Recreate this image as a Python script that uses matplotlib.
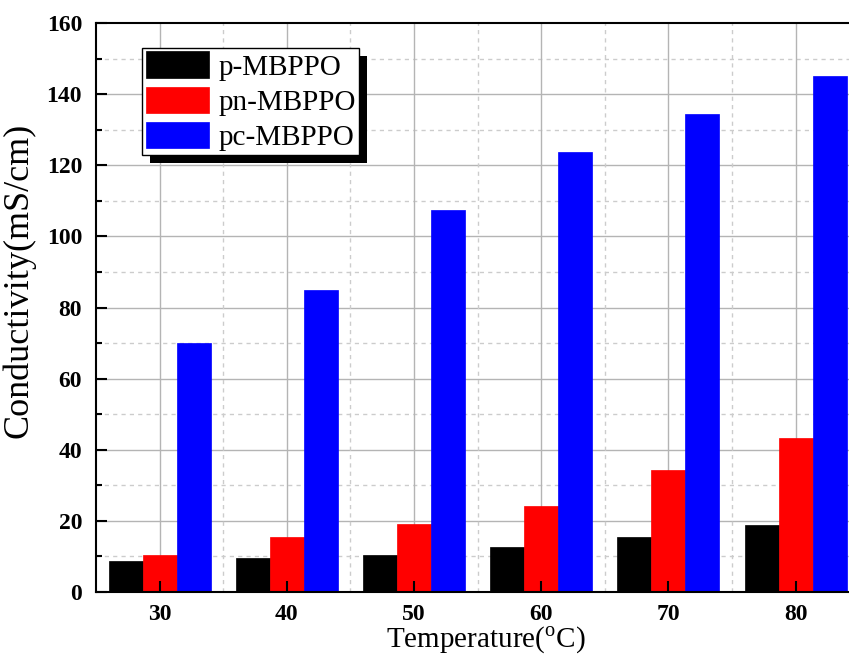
import matplotlib
matplotlib.use("Agg")
import matplotlib.pyplot as plt
import matplotlib.patheffects as pe
from matplotlib.ticker import MultipleLocator
import numpy as np

plt.rcParams['font.family'] = ['Liberation Serif', 'DejaVu Serif']
plt.rcParams['mathtext.fontset'] = 'custom'
plt.rcParams['mathtext.rm'] = 'Liberation Serif'

# Data
temperatures = ['30', '40', '50', '60', '70', '80']
p_mbppo = [8.7, 9.6, 10.4, 12.7, 15.5, 18.8]
pn_mbppo = [10.4, 15.5, 19.1, 24.2, 34.3, 43.3]
pc_mbppo = [70.0, 84.9, 107.4, 123.7, 134.4, 145.1]
series_names = ['p-MBPPO', 'pn-MBPPO', 'pc-MBPPO']
series_colors = ['#000000', '#ff0000', '#0000ff']

fig = plt.figure(figsize=(8.49, 6.59), dpi=100)
ax = fig.add_axes([96 / 849, 1 - 592 / 659, 1 - 96 / 849, (592 - 23) / 659])

x = np.arange(len(temperatures))
width = 0.267

# grid drawn by hand so the ticks can stay on top of the bars
dash = (0, (3, 3))
for yv in range(20, 160, 20):
    ax.axhline(yv, color='#b4b4b4', lw=1.0, zorder=0)
for yv in range(10, 160, 20):
    ax.axhline(yv, color='#cccccc', lw=1.0, ls=dash, zorder=0)
for xv in x:
    ax.axvline(xv, color='#b4b4b4', lw=1.0, zorder=0)
for xv in np.append(x[:-1] + 0.5, x[-1] + 0.5):
    ax.axvline(xv, color='#cccccc', lw=1.0, ls=dash, zorder=0)

for i, (vals, name, col) in enumerate(zip([p_mbppo, pn_mbppo, pc_mbppo], series_names, series_colors)):
    ax.bar(x + (i - 1) * width, vals, width, color=col, edgecolor=col, lw=0.5, label=name, zorder=1)

ax.set_xlim(-0.5, 5.42)
ax.set_ylim(0, 160)
ax.set_xticks(x)
ax.set_xticklabels(temperatures)
ax.yaxis.set_major_locator(MultipleLocator(20))
ax.yaxis.set_minor_locator(MultipleLocator(10))

ax.tick_params(axis='both', which='major', direction='in', length=8, width=1.5, labelsize=17, zorder=3)
ax.tick_params(axis='y', which='minor', direction='in', length=4, width=1.5)
ax.tick_params(axis='x', which='major', pad=9)
ax.tick_params(axis='y', which='major', pad=10)
for lab in ax.get_xticklabels() + ax.get_yticklabels():
    lab.set_fontweight('bold')

for s in ['left', 'bottom', 'top']:
    ax.spines[s].set_linewidth(1.5)
    ax.spines[s].set_zorder(4)
ax.spines['right'].set_visible(False)

ax.set_xlabel('Temperature($^{\\rm o}$C)', fontsize=21)
ax.xaxis.set_label_coords(0.518, -0.058)
ax.set_ylabel('Conductivity(mS/cm)', fontsize=26)
ax.yaxis.set_label_coords(-0.081, 0.548)

leg = ax.legend(loc='upper left', bbox_to_anchor=(142 / 849, 1 - 48 / 659), bbox_transform=fig.transFigure,
                borderaxespad=0, fontsize=21, handlelength=2.19, handleheight=1.03, handletextpad=0.3,
                labelspacing=0.2, borderpad=0.12, fancybox=False, framealpha=1, edgecolor='#000000')
leg.get_frame().set_linewidth(1.0)
leg.get_frame().set_path_effects([pe.SimplePatchShadow(offset=(6, -6), shadow_rgbFace='k', alpha=1), pe.Normal()])
leg.set_zorder(5)

fig.savefig('out.png', dpi=100)
